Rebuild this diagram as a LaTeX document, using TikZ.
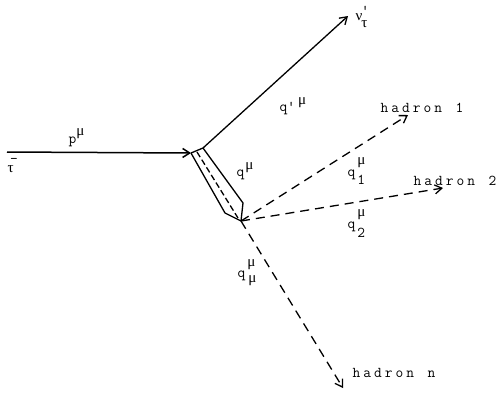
\documentclass[tikz,border=0pt]{standalone}
\usepackage{fontspec}
\newfontfamily\grk{Liberation Serif}
\usetikzlibrary{arrows.meta}
\newcommand\gk[1]{{\grk #1}}
\newcommand\lsp{\hspace{3pt}}
\begin{document}
\begin{tikzpicture}[x=1pt,y=-1pt,
  line width=1.3pt,
  arr/.style={-{Straight Barb[length=7pt,width=9pt]}},
  hdash/.style={dash pattern=on 9pt off 6pt},
  tdash/.style={dash pattern=on 6pt off 3pt},
  lab/.style={anchor=base west, inner sep=0pt, font=\fontsize{15}{17}\selectfont\ttfamily},
  had/.style={anchor=base west, inner sep=0pt, font=\fontsize{15}{17}\selectfont\ttfamily}]
\useasboundingbox (0,0) rectangle (502,392);
% coordinates
\coordinate (tauS) at (7,152);
\coordinate (A) at (191,153);
\coordinate (B) at (203,148);
\coordinate (C) at (225,213);
\coordinate (D) at (243,203);
\coordinate (V) at (241,221);
\coordinate (M1) at (197,152);
\coordinate (M2) at (238,218);
\coordinate (nuT) at (348,16);
\coordinate (h1T) at (408,115);
\coordinate (h2T) at (443,188);
\coordinate (hnT) at (343,388);
% tau line
\draw[arr,line width=1.5pt] (tauS) -- (A);
% tube
\draw (A) -- (B);
\draw (A) -- (C) -- (V);
\draw (B) -- (D) -- (V);
\draw[tdash] (M1) -- (M2);
% neutrino
\draw[arr] (B) -- (nuT);
% hadrons
\draw[arr,hdash] (V) -- (h1T);
\draw[arr,hdash] (V) -- (h2T);
\draw[arr,hdash] (V) -- (hnT);
% labels
\node[lab] (pmu) at (68,143) {p\raisebox{8pt}{\gk{μ}}};
\node[lab] (taum) at (7,172) {\gk{τ}\hspace{-3.5pt}\raisebox{9pt}{-}};
\node[lab] (nu) at (355,20) {\gk{ν}\hspace{-1pt}\raisebox{5pt}{\rlap{'}}\raisebox{-7pt}{\gk{τ}}};
\node[lab] (qp) at (279,111) {q'\hspace{3pt}\raisebox{7pt}{\gk{μ}}};
\node[lab] (q) at (236,176) {q\hspace{1pt}\raisebox{7pt}{\gk{μ}}};
\node[lab] (q1) at (347,176) {q\hspace{2pt}\rlap{\raisebox{12pt}{\gk{μ}}}\raisebox{-8pt}{1}};
\node[lab] (q2) at (347,228) {q\hspace{2pt}\rlap{\raisebox{12pt}{\gk{μ}}}\raisebox{-9pt}{2}};
\node[lab] (qm) at (237,277) {q\hspace{2pt}\rlap{\raisebox{11pt}{\gk{μ}}}\hspace{1pt}\raisebox{-5pt}{\gk{μ}}};
\node[had] (h1) at (380,112) {h\lsp a\lsp d\lsp r\lsp o\lsp n\lsp\ \lsp 1};
\node[had] (h2) at (413,185) {h\lsp a\lsp d\lsp r\lsp o\lsp n\lsp\ \lsp 2};
\node[had] (hn) at (352,377) {h\lsp a\lsp d\lsp r\lsp o\lsp n\lsp\ \lsp n};
\end{tikzpicture}
\end{document}
